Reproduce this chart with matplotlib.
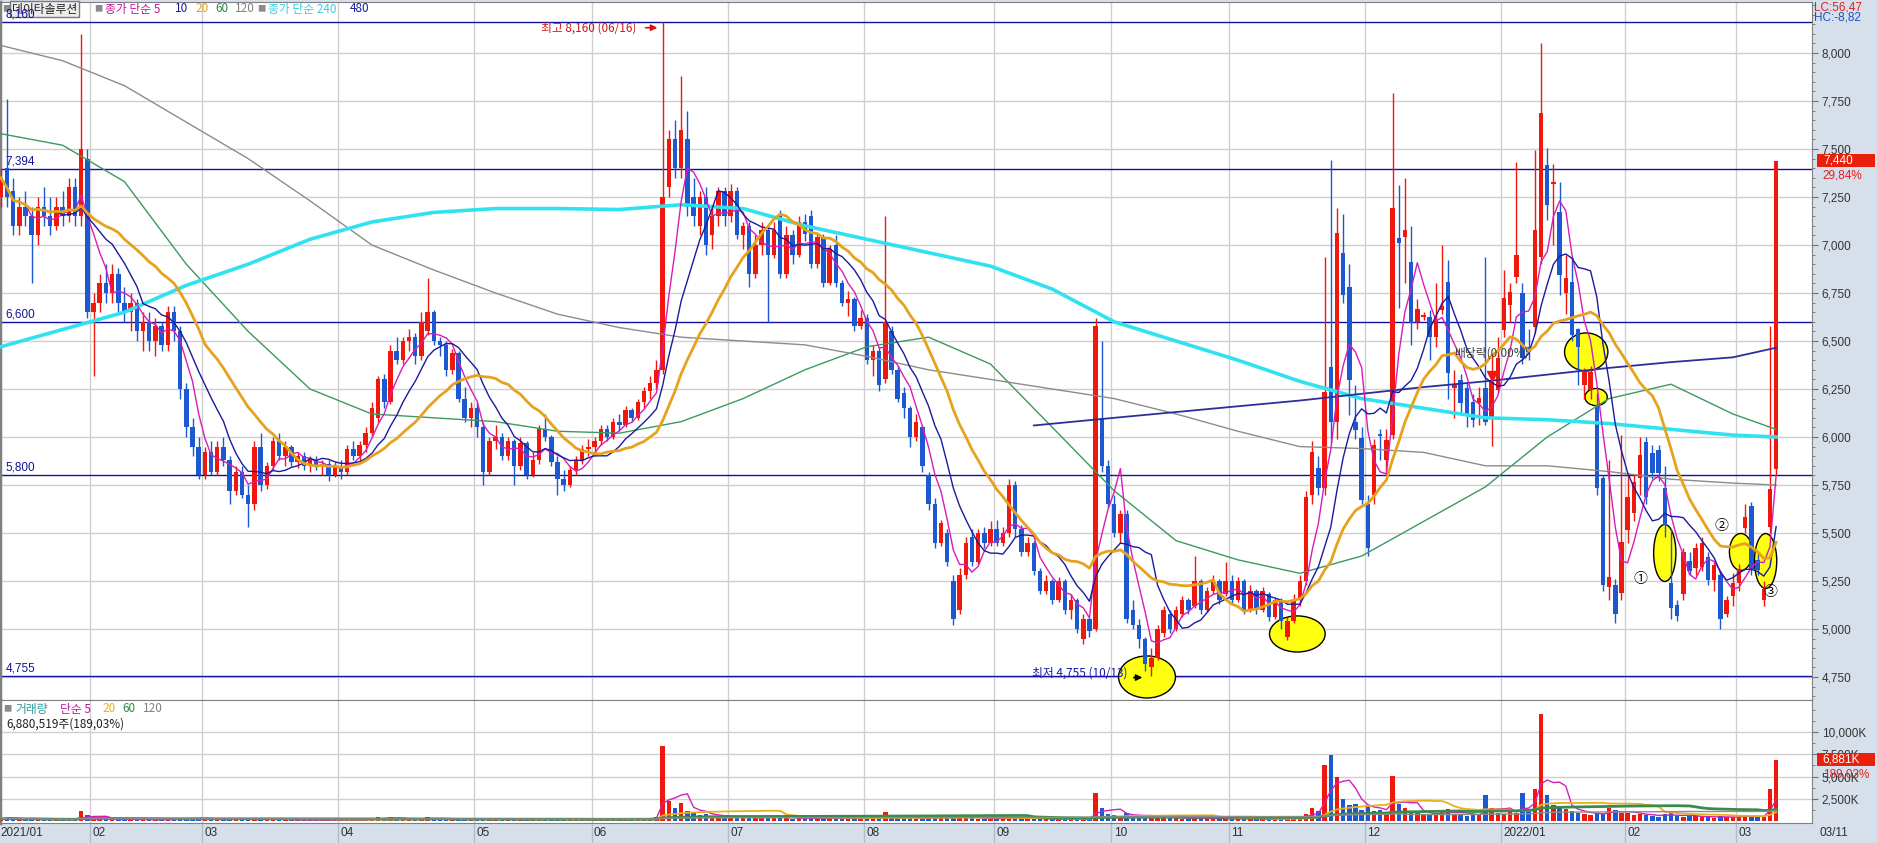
import matplotlib
matplotlib.use("Agg")
import matplotlib.pyplot as plt
from matplotlib.patches import Ellipse, Rectangle
from matplotlib.lines import Line2D
from matplotlib.ticker import MultipleLocator, FixedLocator, FuncFormatter
import numpy as np
import pandas as pd

plt.rcParams['font.family'] = ['Noto Sans CJK KR', 'DejaVu Sans']
NUMFONT = ['Liberation Sans Narrow', 'Liberation Sans', 'DejaVu Sans']

# ---------------- data: daily candles (open, high, low, close) per month ----------------
jan21 = [(7250,7400,7200,7350),(7400,7760,7200,7250),(7280,7350,7050,7100),(7100,7250,7050,7200),(7200,7280,7100,7150),
         (7150,7200,6800,7050),(7050,7250,7000,7200),(7200,7300,7100,7150),(7150,7250,7050,7100),(7100,7250,7080,7200),
         (7200,7280,7100,7150),(7150,7350,7120,7300),(7300,7350,7100,7150),(7150,8100,7100,7500),(7450,7500,6620,6650)]
feb21 = [(6650,6750,6320,6700),(6700,6850,6650,6800),(6800,6900,6700,6750),(6750,6900,6700,6850),(6850,6880,6650,6700),
         (6700,6780,6600,6650),(6650,6750,6550,6700),(6700,6720,6500,6550),(6550,6650,6450,6600),(6600,6650,6450,6500),
         (6500,6620,6420,6580),(6580,6600,6450,6480),(6480,6680,6450,6650),(6650,6680,6500,6550),(6550,6580,6200,6250),
         (6250,6280,6000,6050),(6050,6100,5900,5950),(5950,6000,5780,5800)]
mar21 = [(5800,5950,5780,5920),(5920,5980,5800,5820),(5820,5980,5800,5950),(5950,6000,5850,5880),(5880,5900,5650,5720),
         (5720,5850,5700,5820),(5820,5850,5680,5700),(5700,5750,5530,5650),(5650,5980,5620,5950),(5950,6020,5720,5750),
         (5750,5870,5730,5850),(5850,6000,5830,5980),(5980,6020,5880,5900),(5900,5980,5850,5950),(5950,5960,5850,5870),
         (5870,5920,5840,5900),(5900,5920,5830,5850),(5850,5900,5820,5880),(5880,5900,5830,5850),(5850,5880,5800,5860),
         (5860,5880,5770,5800),(5800,5870,5790,5850)]
apr21 = [(5850,5880,5780,5820),(5820,5960,5800,5940),(5940,5980,5880,5900),(5900,5980,5870,5960),(5960,6050,5920,6020),
         (6020,6180,6000,6150),(6100,6320,6080,6300),(6300,6330,6150,6180),(6180,6480,6170,6450),(6450,6520,6380,6400),
         (6400,6520,6380,6500),(6500,6560,6450,6520),(6520,6540,6380,6420),(6420,6650,6400,6600),(6550,6830,6530,6650),
         (6650,6660,6480,6500),(6500,6520,6420,6480),(6480,6500,6320,6350),(6350,6460,6330,6440),(6440,6450,6180,6200),
         (6200,6260,6080,6100),(6100,6180,6050,6150)]
may21 = [(6150,6180,6000,6050),(6050,6080,5750,5820),(5820,6000,5800,5980),(5980,6060,5940,6000),(6000,6020,5880,5900),
         (5900,6000,5880,5980),(5980,5990,5750,5850),(5850,6000,5830,5970),(5970,5980,5780,5800),(5800,5920,5790,5880),
         (5880,6060,5860,6040),(6040,6120,5980,6000),(6000,6010,5850,5870),(5870,5900,5700,5780),(5780,5830,5720,5750),
         (5750,5850,5740,5830),(5830,5900,5800,5880),(5880,5960,5860,5940),(5940,5990,5900,5950)]
jun21 = [(5950,6000,5900,5980),(5980,6060,5960,6040),(6040,6060,5980,6000),(6000,6100,5990,6080),(6080,6120,6030,6060),
         (6060,6160,6050,6140),(6140,6150,6080,6100),(6100,6200,6090,6180),(6180,6260,6150,6240),(6240,6320,6200,6280),
         (6280,6400,6250,6350),(6350,8160,6330,7250),(7300,7600,7250,7550),(7550,7650,7350,7400),(7400,7880,7350,7600),
         (7550,7700,7150,7200),(7250,7350,7100,7150),(7100,7280,7050,7250),(7250,7300,6950,7000),(7050,7200,6980,7150),
         (7150,7300,7100,7280),(7280,7300,7100,7150)]
jul21 = [(7150,7320,7120,7280),(7280,7300,7030,7050),(7050,7120,6980,7100),(7100,7120,6780,6850),(6850,7050,6830,7000),
         (7000,7120,6950,7080),(7080,7100,6600,6950),(6950,7120,6930,7080),(7150,7180,6830,6850),(6850,7100,6830,7050),
         (7050,7080,6900,6950),(6950,7150,6940,7120),(7120,7160,7020,7060),(7150,7180,6880,6900),(6900,7060,6880,7040),
         (7040,7060,6780,6800),(6800,7000,6790,6980),(7000,7050,6780,6800),(6800,6820,6680,6700),(6700,6760,6630,6720),
         (6720,6730,6550,6580),(6580,6660,6560,6620)]
aug21 = [(6620,6640,6380,6400),(6400,6480,6320,6450),(6450,6470,6240,6270),(6300,7150,6280,6600),(6550,6580,6330,6350),
         (6350,6370,6180,6200),(6230,6260,6100,6150),(6150,6160,5950,6000),(6000,6120,5980,6080),(6050,6060,5820,5850),
         (5800,5820,5620,5650),(5650,5680,5420,5450),(5450,5570,5430,5550),(5500,5520,5330,5350),(5250,5280,5020,5050),
         (5100,5320,5080,5280),(5280,5480,5260,5450),(5480,5520,5330,5350),(5350,5520,5340,5500),(5500,5530,5420,5450),
         (5450,5560,5430,5520)]
sep21 = [(5520,5570,5430,5450),(5450,5530,5430,5500),(5500,5780,5480,5750),(5750,5770,5480,5520),(5520,5540,5380,5400),
         (5400,5480,5380,5450),(5450,5460,5280,5300),(5300,5320,5180,5200),(5200,5280,5180,5250),(5250,5260,5130,5150),
         (5150,5270,5140,5250),(5250,5260,5080,5100),(5100,5180,5050,5150),(5150,5160,4980,5000),(4950,5080,4920,5050),
         (5050,5060,4960,4990),(5000,6620,4990,6580),(6100,6500,5820,5850),(5850,5880,5630,5650)]
oct21 = [(5650,5700,5480,5500),(5500,5620,5450,5600),(5600,5620,5030,5050),(5100,5150,5000,5020),(5020,5050,4900,4950),
         (4950,4960,4780,4820),(4800,4900,4755,4850),(4850,5020,4840,5000),(4980,5120,4960,5100),(5080,5100,4980,5000),
         (5000,5120,4990,5100),(5080,5170,5060,5150),(5150,5160,5080,5100),(5120,5380,5110,5250),(5250,5260,5080,5100),
         (5100,5220,5090,5200),(5200,5280,5180,5250),(5250,5260,5130,5150),(5180,5350,5170,5250)]
nov21 = [(5250,5280,5130,5150),(5150,5270,5140,5250),(5250,5260,5080,5100),(5100,5230,5090,5200),(5200,5210,5080,5100),
         (5100,5220,5090,5200),(5180,5190,5040,5060),(5060,5160,5050,5150),(5150,5160,5000,5040),(4960,5060,4940,5040),
         (5040,5180,5030,5150),(5150,5280,5120,5250),(5250,5720,5230,5690),(5698,5980,5650,5923),(5838,5900,5700,5734),
         (5734,6939,5700,6236),(6366,7443,5969,6080),(6080,7193,5990,7062),(6958,7160,6700,6740),(6783,6900,6115,6297),
         (6080,6270,5990,6036),(5995,6050,5650,5672)]
dec21 = [(5650,5700,5380,5420),(5700,5990,5650,5958),(6015,6040,5880,6005),(5880,6040,5800,5984),(6010,7792,5990,7193),
         (7036,7312,6670,7010),(7042,7350,6800,7078),(6913,7100,6480,6592),(6600,6720,6560,6667),(6625,6650,6610,6635),
         (6625,6660,6400,6521),(6521,6800,6470,6609),(6660,7000,6640,6680),(6809,6920,6200,6332),(6255,6350,6100,6276),
         (6297,6330,6120,6177),(6255,6280,6050,6115),(6182,6225,6050,6089),(6177,6260,6060,6203),(6255,6939,6060,6080),
         (6099,6430,5953,6288),(6245,6520,6230,6411)]
jan22 = [(6557,6870,6520,6724),(6688,6800,6600,6757),(6835,7434,6800,6948),(6748,6800,6380,6410),(6470,6560,6400,6444),
         (6575,7495,6540,7078),(6939,8050,6900,7686),(7417,7505,7130,7208),(7316,7420,7000,7330),(7174,7330,6740,6844),
         (6750,6950,6640,6828),(6809,6940,6500,6531),(6560,6570,6270,6470),(6271,6360,6200,6340),(6245,6370,6200,6340),
         (6167,6230,5700,5733),(5785,5800,5200,5229),(5220,5880,5150,5272),(5229,5260,5030,5080),(5186,6010,5150,5455)]
feb22 = [(5516,5800,5450,5689),(5602,5800,5560,5767),(5786,6000,5700,5906),(5976,6000,5650,5689),(5917,5960,5780,5812),
         (5932,5960,5770,5812),(5734,5850,5480,5542),(5240,5520,5050,5110),(5125,5150,5040,5070),(5180,5420,5150,5400),
         (5355,5400,5280,5300),(5317,5450,5280,5422),(5323,5480,5300,5448),(5375,5400,5230,5255),(5255,5350,5200,5335),
         (5280,5300,5000,5050),(5080,5170,5060,5150),(5170,5290,5120,5240)]
mar22 = [(5240,5340,5200,5315),(5525,5650,5500,5585),(5640,5660,5280,5310),(5360,5400,5280,5305),(5150,5250,5120,5210),
         (5530,6580,5500,5730),(5833,7440,5800,7440)]

# volume, thousand shares
vol_jan21 = [250,400,300,200,180,350,200,150,160,180,150,250,200,1100,700]
vol_feb21 = [450,300,250,220,200,180,200,220,180,200,170,160,250,200,350,400,300,350]
vol_mar21 = [300,250,220,200,350,250,200,400,300,350,250,200,180,160,150,140,150,130,140,130,160,140]
vol_apr21 = [130,180,150,160,200,350,500,300,450,300,280,250,200,350,500,250,200,220,180,250,220,200]
vol_may21 = [200,300,220,180,170,160,250,200,220,180,250,220,200,260,200,180,170,190,180]
vol_jun21 = [180,200,190,220,200,250,230,260,350,400,500,8400,2300,1500,2000,1200,900,700,800,600,550,500]
vol_jul21 = [500,450,400,500,380,350,600,400,450,350,300,350,320,400,330,420,350,380,300,280,350,300]
vol_aug21 = [350,300,380,1000,450,380,350,400,300,380,450,500,350,400,600,450,400,350,300,280,300]
vol_sep21 = [280,250,500,400,300,250,280,260,240,230,250,240,220,260,250,300,3200,1500,800]
vol_oct21 = [700,600,900,600,650,500,600,450,400,350,380,300,280,400,300,280,260,250,300]
vol_nov21 = [260,250,280,240,230,220,250,240,300,450,500,450,800,1500,1200,6300,7400,5000,2500,1800,1900,1300]
vol_dec21 = [1800,1200,1300,900,5100,1900,1500,1000,900,800,700,800,1200,1400,800,700,600,700,800,3000,1500,900]
vol_jan22 = [800,1200,900,3200,1300,3600,12000,3000,1800,1500,1400,1200,900,800,700,900,800,1500,1300,900]
vol_feb22 = [900,700,800,700,600,500,800,900,600,500,600,550,500,450,400,600,500,450]
vol_mar22 = [500,700,600,500,450,3640,6880.519]

month_labels = ['2021/01','02','03','04','05','06','07','08','09','10','11','12','2022/01','02','03']

# long moving averages (trading-day index, price)
ma_days = [0,10,20,30,40,50,60,70,80,90,100,110,120,130,140,150,160,170,180,190,200,210,220,230,240,250,260,270,280,287]
ma60 = [7580,7520,7330,6900,6550,6250,6120,6100,6080,6030,6020,6080,6200,6350,6470,6520,6380,6050,5720,5460,
        5360,5290,5380,5560,5740,6000,6200,6275,6120,6040]
ma120 = [8040,7960,7830,7640,7450,7230,7000,6870,6750,6640,6570,6520,6500,6480,6420,6350,6300,6250,6200,6120,
         6030,5950,5940,5920,5850,5850,5820,5780,5760,5750]
ma240 = [6470,6560,6650,6790,6900,7030,7120,7170,7190,7190,7185,7210,7190,7100,7030,6960,6890,6770,6600,6500,
         6400,6290,6200,6150,6100,6090,6070,6040,6010,6000]
ma480_days = [167,180,190,200,210,220,230,240,250,260,270,280,287]
ma480 = [6060,6100,6130,6160,6190,6225,6260,6290,6325,6360,6390,6415,6465]

ref_levels = [7394, 6600, 5800]   # user drawn horizontal lines

# highlighted areas (index, price, width in days, height in won)
highlights = [(185.3,4750,9.2,219),(209.6,4974,9.0,188),(256.3,6443,7.0,198),(257.9,6208,3.6,89),
              (269.0,5396,3.6,297),(281.3,5401,3.7,193),(285.3,5354,3.6,286)]
circled = [('①',265.1,5260),('②',278.2,5536),('③',286.1,5193)]

# ---------------- build arrays ----------------
months = [jan21,feb21,mar21,apr21,may21,jun21,jul21,aug21,sep21,oct21,nov21,dec21,jan22,feb22,mar22]
vols = [vol_jan21,vol_feb21,vol_mar21,vol_apr21,vol_may21,vol_jun21,vol_jul21,vol_aug21,vol_sep21,
        vol_oct21,vol_nov21,vol_dec21,vol_jan22,vol_feb22,vol_mar22]
ohlc = np.array([r for m in months for r in m], dtype=float)
opens, highs, lows, closes = ohlc.T
volume = np.array([v for m in vols for v in m], dtype=float)
month_start = np.cumsum([0] + [len(m) for m in months[:-1]])
n = len(closes)
idx = np.arange(n)

RED = '#f0180c'
BLUE = '#1c58d0'
NAVY = '#12129a'
up = closes >= opens
cols = np.where(up, RED, BLUE)

W, H = 1877, 843
def fx(x): return x / W
def fy(y): return 1 - y / H

fig = plt.figure(figsize=(W/100, H/100), dpi=100, facecolor='#d6dfea')
ax = fig.add_axes([0, fy(700), fx(1812), 698/H])
axv = fig.add_axes([0, fy(823), fx(1812), 123/H])

for a in (ax, axv):
    a.set_facecolor('white')
    a.set_xlim(-0.12, 292.8)
    a.set_xticks([])
    for s in a.spines.values():
        s.set_color('#808080')
    a.spines['left'].set_linewidth(2.5)
    a.yaxis.tick_right()
    a.tick_params(axis='y', which='both', direction='out', color='#707070', labelsize=8.5,
                  labelcolor='#333333', pad=3)
    a.tick_params(axis='y', which='major', length=4)
    a.tick_params(axis='y', which='minor', length=2)
    for b in month_start[1:]:
        a.axvline(b - 0.5, color='#cfcfcf', lw=1, zorder=0)

# separators in the date band
for b in month_start[1:]:
    axv.add_line(Line2D([b - 0.5, b - 0.5], [0, -0.165], transform=axv.get_xaxis_transform(),
                        color='#b4bcc8', lw=1, clip_on=False))

# ---------------- price panel ----------------
ax.set_ylim(4630, 8266)
ax.yaxis.set_major_locator(FixedLocator(np.arange(4750, 8001, 250)))
ax.yaxis.set_minor_locator(FixedLocator(np.arange(4650, 8251, 50)))
ax.yaxis.set_major_formatter(FuncFormatter(lambda v, p: f"{v:,.0f}"))
ax.grid(axis='y', which='major', color='#cfcfcf', lw=1, zorder=0)
ax.set_axisbelow(True)
for t in ax.get_yticklabels():
    t.set_family(NUMFONT)

# title row (drawn inside the price axes so the level labels stay on top)
tf = fig.transFigure
ax.text(fx(2), fy(9), '■', color='#8a8a8a', fontsize=6, va='center', transform=tf, zorder=5)
ax.text(fx(12), fy(9), '데이타솔루션', color='#202020', fontsize=8.5, va='center', transform=tf, zorder=5,
        bbox=dict(boxstyle='square,pad=0.15', fc='#ececec', ec='#7a7a7a', lw=1))
legend_items = [(94, '■', '#8a8a8a', 6), (105, '종가 단순 5', '#c0189c', 8.5), (175, '10', '#1a1a9e', 8.5),
                (195, '20', '#e6a21c', 8.5), (215, '60', '#2a8a4a', 8.5), (235, '120', '#808080', 8.5),
                (257, '■', '#8a8a8a', 6), (268, '종가 단순 240', '#30d0e0', 8.5), (350, '480', '#1a1a9e', 8.5)]
for (x, s, c, fs) in legend_items:
    ax.text(fx(x), fy(9), s, color=c, fontsize=fs, va='center', transform=tf, zorder=5)

hi_i, lo_i = int(np.argmax(highs)), int(np.argmin(lows))
levels = [highs[hi_i]] + ref_levels + [lows[lo_i]]
for lv in levels:
    ax.axhline(lv, color=NAVY, lw=1, zorder=1.5)
    ax.text(0.003, lv + 8, f"{lv:,.0f}", transform=ax.get_yaxis_transform(), va='bottom', ha='left',
            color=NAVY, fontsize=8.5, family=NUMFONT, zorder=6)

for (x, y, w, h) in highlights:
    ax.add_patch(Ellipse((x, y), w, h, facecolor='#ffff10', edgecolor='black', lw=1, zorder=2.5))

ax.vlines(idx, lows, highs, colors=cols, lw=1, zorder=3)
ax.bar(idx, np.maximum(np.abs(closes - opens), 8), bottom=np.minimum(opens, closes), width=0.72,
       color=cols, linewidth=0, zorder=3.1)

cs = pd.Series(closes)
ax.plot(idx, cs.rolling(5, min_periods=1).mean(), color='#d81cb8', lw=1, zorder=4)
ax.plot(idx, cs.rolling(10, min_periods=1).mean(), color='#1a1a9e', lw=1, zorder=4)
ax.plot(idx, cs.rolling(20, min_periods=1).mean(), color='#e6a21c', lw=2, zorder=4)
ax.plot(ma_days, ma60, color='#3b9a5c', lw=1, zorder=3.5)
ax.plot(ma_days, ma120, color='#8c8c8c', lw=1, zorder=3.5)
ax.plot(ma_days, ma240, color='#30e2f0', lw=2.6, zorder=3.5)
ax.plot(ma480_days, ma480, color='#2e2e9a', lw=1.3, zorder=3.5)

# max / min annotations
ax.text(hi_i - 4.3, highs[hi_i] - 28, f"최고 {highs[hi_i]:,.0f} (06/16)", ha='right', va='center',
        color='#d01818', fontsize=8.5, zorder=6)
ax.annotate('', xy=(hi_i - 0.4, highs[hi_i] - 28), xytext=(hi_i - 3.2, highs[hi_i] - 28),
            arrowprops=dict(arrowstyle='-|>', color='#e01010', lw=1.2, mutation_scale=9), zorder=6)
ax.text(lo_i - 3.9, lows[lo_i] + 18, f"최저 {lows[lo_i]:,.0f} (10/13)", ha='right', va='center',
        color='#1818b0', fontsize=8.5, zorder=6)
ax.annotate('', xy=(lo_i - 1.0, lows[lo_i] - 8), xytext=(lo_i - 3.3, lows[lo_i] - 8),
            arrowprops=dict(arrowstyle='-|>', color='black', lw=1.2, mutation_scale=9), zorder=6)

ax.text(235.0, 6437, '배당락(0.00%)', ha='left', va='center', color='#404040', fontsize=8.5, zorder=6)
ax.plot([241], [6320], marker='v', color=RED, ms=7, zorder=6)

for (s, x, y) in circled:
    ax.text(x, y, s, ha='center', va='center', fontsize=10, color='black', zorder=6,
            family=['Noto Sans CJK KR', 'DejaVu Sans'])

# last price box
last = closes[-1]
chg = (closes[-1] / closes[-2] - 1) * 100
ax.add_patch(Rectangle((1.0027, last - 34), 0.0321, 68, transform=ax.get_yaxis_transform(),
                       facecolor='#e8200c', edgecolor='none', clip_on=False, zorder=7))
ax.text(1.006, last, f"{last:,.0f}", transform=ax.get_yaxis_transform(), va='center', ha='left',
        color='white', fontsize=8.5, family=NUMFONT, zorder=8, clip_on=False)
ax.text(1.006, last - 80, f"{chg:.2f}%".replace('.', ','), transform=ax.get_yaxis_transform(),
        va='center', ha='left', color='#e02020', fontsize=8.5, family=NUMFONT, zorder=8, clip_on=False)

lc = (last / lows.min() - 1) * 100
hc = (last / highs.max() - 1) * 100
fig.text(fx(1814), fy(8), f"LC:{lc:.2f}".replace('.', ','), color='#e02020', fontsize=8.5,
         va='center', family=NUMFONT)
fig.text(fx(1814), fy(18), f"HC:{hc:.2f}".replace('.', ','), color='#2050c0', fontsize=8.5,
         va='center', family=NUMFONT)

# ---------------- volume panel ----------------
axv.set_ylim(-190, 13580)
axv.yaxis.set_major_locator(FixedLocator([2500, 5000, 7500, 10000]))
axv.yaxis.set_minor_locator(FixedLocator(np.arange(1250, 12600, 1250)))
axv.yaxis.set_major_formatter(FuncFormatter(lambda v, p: f"{v:,.0f}K"))
axv.grid(axis='y', which='major', color='#cfcfcf', lw=1, zorder=0)
for t in axv.get_yticklabels():
    t.set_family(NUMFONT)
axv.bar(idx, volume, width=0.72, color=cols, linewidth=0, zorder=3)
vs = pd.Series(volume)
axv.plot(idx, vs.rolling(5, min_periods=1).mean(), color='#d81cb8', lw=1, zorder=4)
axv.plot(idx, vs.rolling(20, min_periods=1).mean(), color='#e6b21c', lw=1.3, zorder=4)
axv.plot(idx, vs.rolling(60, min_periods=1).mean(), color='#3b8a4c', lw=2, zorder=4)
axv.plot(idx, vs.rolling(120, min_periods=1).mean(), color='#8c8c8c', lw=1, zorder=4)

vlast = volume[-1]
vchg = volume[-1] / volume[-2] * 100
axv.add_patch(Rectangle((1.0027, vlast - 740), 0.0321, 1480, transform=axv.get_yaxis_transform(),
                        facecolor='#e8200c', edgecolor='none', clip_on=False, zorder=7))
axv.text(1.006, vlast, f"{vlast:,.0f}K", transform=axv.get_yaxis_transform(), va='center', ha='left',
         color='white', fontsize=8.5, family=NUMFONT, zorder=8, clip_on=False)
axv.text(1.006, vlast - 1650, f"{vchg:.2f}%".replace('.', ','), transform=axv.get_yaxis_transform(),
         va='center', ha='left', color='#e02020', fontsize=8.5, family=NUMFONT, zorder=8, clip_on=False)

fig.text(fx(3), fy(709), '■', color='#8a8a8a', fontsize=6, va='center')
vol_legend = [(15, '거래량', '#2a9a9a'), (60, '단순 5', '#c0189c'), (102, '20', '#e6b21c'),
              (122, '60', '#2a8a4a'), (143, '120', '#808080')]
for (x, s, c) in vol_legend:
    fig.text(fx(x), fy(709), s, color=c, fontsize=8.5, va='center')
fig.text(fx(6), fy(724), f"{vlast*1000:,.0f}주({vchg:.2f}%)".replace('.', ','), color='#202020',
         fontsize=8.5, va='center')

# date labels
for s, lab in zip(month_start, month_labels):
    axv.text(s - 0.5 + 0.4, -0.085, lab, transform=axv.get_xaxis_transform(), ha='left', va='center',
             fontsize=8.5, color='#303030', family=NUMFONT)
fig.text(fx(1820), fy(833), '03/11', fontsize=8.5, color='#303030', va='center', family=NUMFONT)

fig.savefig('out.png', dpi=100, facecolor=fig.get_facecolor())
